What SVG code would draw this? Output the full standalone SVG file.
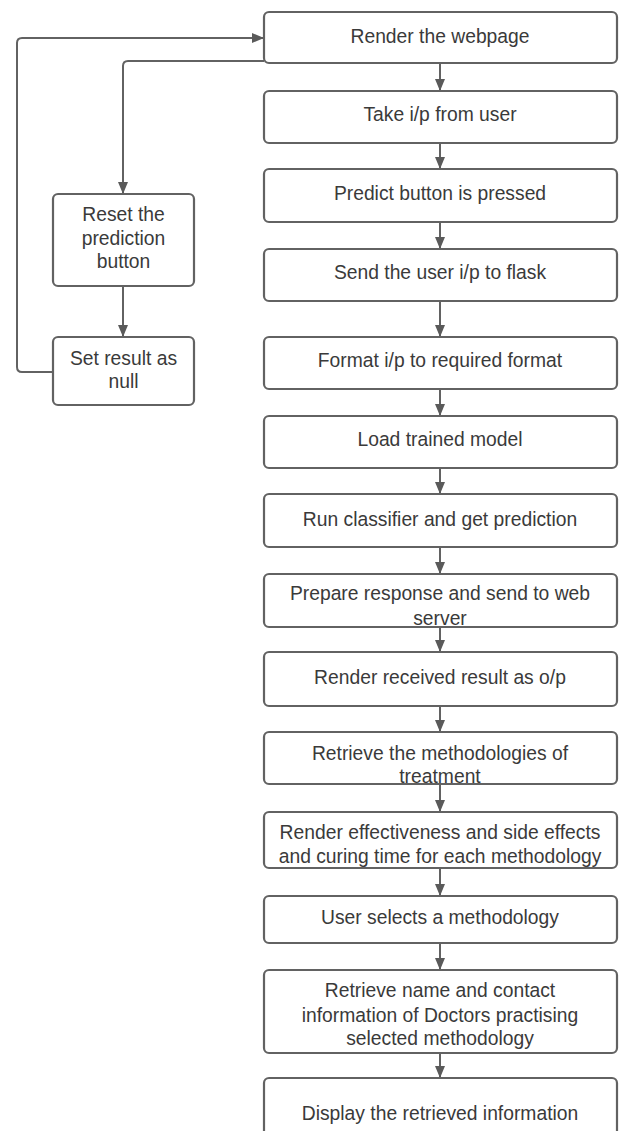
<svg xmlns="http://www.w3.org/2000/svg" width="621" height="1131" viewBox="0 0 621 1131">
<style>
.box{fill:#ffffff;stroke:#626262;stroke-width:2.2}
.lbl{font-family:"Liberation Sans",Arial,sans-serif;font-size:19.3px;fill:#3a3a3a;text-anchor:middle}
.con{fill:none;stroke:#626262;stroke-width:2}
</style>
<defs>
<marker id="ah" viewBox="0 0 12 10" refX="12" refY="5" markerWidth="12" markerHeight="10" markerUnits="userSpaceOnUse" orient="auto">
<path d="M0,0 L12,5 L0,10 z" fill="#5a5a5a"/>
</marker>
</defs>
<rect width="621" height="1131" fill="#ffffff"/>
<g id="connectors">
<path class="con" d="M264 61 H128 Q123 61 123 66 V194" marker-end="url(#ah)"/>
<path class="con" d="M123 286 V337" marker-end="url(#ah)"/>
<path class="con" d="M53 372 H22 Q17 372 17 367 V43 Q17 38 22 38 H264" marker-end="url(#ah)"/>
<path class="con" d="M440 63 V91" marker-end="url(#ah)"/>
<path class="con" d="M440 143 V169" marker-end="url(#ah)"/>
<path class="con" d="M440 222 V249" marker-end="url(#ah)"/>
<path class="con" d="M440 301 V337" marker-end="url(#ah)"/>
<path class="con" d="M440 389 V416" marker-end="url(#ah)"/>
<path class="con" d="M440 468 V494" marker-end="url(#ah)"/>
<path class="con" d="M440 547 V574" marker-end="url(#ah)"/>
<path class="con" d="M440 627 V652" marker-end="url(#ah)"/>
<path class="con" d="M440 706 V732" marker-end="url(#ah)"/>
<path class="con" d="M440 784 V812" marker-end="url(#ah)"/>
<path class="con" d="M440 868 V896" marker-end="url(#ah)"/>
<path class="con" d="M440 943 V970" marker-end="url(#ah)"/>
<path class="con" d="M440 1053 V1078" marker-end="url(#ah)"/>
</g>
<g id="n1"><rect class="box" x="264" y="12" width="353" height="51" rx="5"/><text class="lbl" x="440" y="43">Render the webpage</text></g>
<g id="n2"><rect class="box" x="264" y="91" width="353" height="52" rx="5"/><text class="lbl" x="440" y="121">Take i/p from user</text></g>
<g id="n3"><rect class="box" x="264" y="169" width="353" height="53" rx="5"/><text class="lbl" x="440" y="200">Predict button is pressed</text></g>
<g id="n4"><rect class="box" x="264" y="249" width="353" height="52" rx="5"/><text class="lbl" x="440" y="279">Send the user i/p to flask</text></g>
<g id="n5"><rect class="box" x="264" y="337" width="353" height="52" rx="5"/><text class="lbl" x="440" y="367">Format i/p to required format</text></g>
<g id="n6"><rect class="box" x="264" y="416" width="353" height="52" rx="5"/><text class="lbl" x="440" y="446">Load trained model</text></g>
<g id="n7"><rect class="box" x="264" y="494" width="353" height="53" rx="5"/><text class="lbl" x="440" y="526">Run classifier and get prediction</text></g>
<g id="n8"><rect class="box" x="264" y="574" width="353" height="53" rx="5"/><text class="lbl" x="440" y="600">Prepare response and send to web</text><text class="lbl" x="440" y="625">server</text></g>
<g id="n9"><rect class="box" x="264" y="652" width="353" height="54" rx="5"/><text class="lbl" x="440" y="684">Render received result as o/p</text></g>
<g id="n10"><rect class="box" x="264" y="732" width="353" height="52" rx="5"/><text class="lbl" x="440" y="760">Retrieve the methodologies of</text><text class="lbl" x="440" y="783">treatment</text></g>
<g id="n11"><rect class="box" x="264" y="812" width="353" height="56" rx="5"/><text class="lbl" x="440" y="839">Render effectiveness and side effects</text><text class="lbl" x="440" y="863">and curing time for each methodology</text></g>
<g id="n12"><rect class="box" x="264" y="896" width="353" height="47" rx="5"/><text class="lbl" x="440" y="924">User selects a methodology</text></g>
<g id="n13"><rect class="box" x="264" y="970" width="353" height="83" rx="5"/><text class="lbl" x="440" y="997">Retrieve name and contact</text><text class="lbl" x="440" y="1022">information of Doctors practising</text><text class="lbl" x="440" y="1045">selected methodology</text></g>
<g id="n14"><rect class="box" x="264" y="1078" width="353" height="80" rx="5"/><text class="lbl" x="440" y="1120">Display the retrieved information</text></g>
<g id="n15"><rect class="box" x="53" y="194" width="141" height="92" rx="5"/><text class="lbl" x="123.5" y="221">Reset the</text><text class="lbl" x="123.5" y="245">prediction</text><text class="lbl" x="123.5" y="268">button</text></g>
<g id="n16"><rect class="box" x="53" y="337" width="141" height="68" rx="5"/><text class="lbl" x="123.5" y="365">Set result as</text><text class="lbl" x="123.5" y="388">null</text></g>
</svg>
